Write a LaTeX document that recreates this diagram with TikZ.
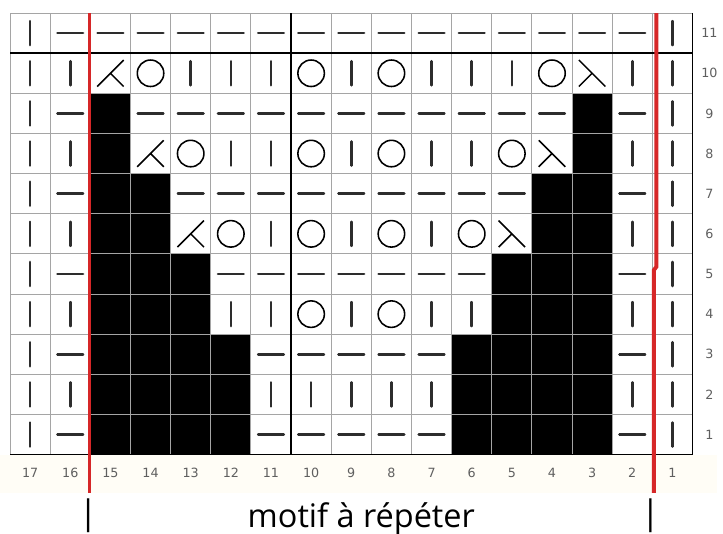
\documentclass[tikz,border=0pt]{standalone}
\usepackage{fontspec}
\setmainfont{Open Sans}
\newfontfamily\numfont{DejaVu Sans}
\usetikzlibrary{positioning}
\definecolor{chartRed}{RGB}{214,39,40}
\definecolor{gridGray}{RGB}{165,165,165}
\definecolor{inkDark}{RGB}{45,45,45}
\definecolor{labelGray}{RGB}{95,95,95}
\definecolor{bandCream}{RGB}{255,253,246}
\tikzset{
  stitch line/.style={line width=1.8pt,draw=inkDark,line cap=round},
  stitch thin/.style={line width=1.1pt,draw=black},
  grid line/.style={draw=gridGray,line width=0.7pt},
  rule line/.style={draw=black,line width=1.1pt},
  repeat line/.style={draw=chartRed,line width=2.8pt},
  number label/.style={font=\numfont\fontsize{9}{11}\selectfont,text=labelGray,inner sep=0pt},
  caption text/.style={font=\fontsize{23}{27}\selectfont,text=black,inner sep=0pt},
  caption bar/.style={font=\fontsize{24}{26}\selectfont,text=black,inner sep=0pt},
  pics/knit/.style={code={\draw[stitch line] (0,-0.3) -- (0,0.3);}},
  pics/purl/.style={code={\draw[stitch line] (-0.32,0) -- (0.32,0);}},
  pics/yarnover/.style={code={\draw[stitch thin] (0,0) circle (0.33);}},
  pics/leftdec/.style={code={\draw[stitch thin] (-0.33,-0.33) -- (0.33,0.33) (0,0) -- (0.33,-0.33);}},
  pics/rightdec/.style={code={\draw[stitch thin] (-0.33,0.33) -- (0.33,-0.33) (0,0) -- (-0.33,-0.33);}},
  pics/nostitch/.style={code={\fill (-0.5,-0.5) rectangle (0.5,0.5);}}
}

\begin{document}
\begin{tikzpicture}
  \useasboundingbox (-0.25,-1.975) rectangle (17.76,11.325);
  \fill[bandCream] (-0.25,-0.95) rectangle (17.6,0);
  \foreach \row/\cells in {
    11/{knit,purl,purl,purl,purl,purl,purl,purl,purl,purl,purl,purl,purl,purl,purl,purl,knit},
    10/{knit,knit,leftdec,yarnover,knit,knit,knit,yarnover,knit,yarnover,knit,knit,knit,yarnover,rightdec,knit,knit},
    9/{knit,purl,nostitch,purl,purl,purl,purl,purl,purl,purl,purl,purl,purl,purl,nostitch,purl,knit},
    8/{knit,knit,nostitch,leftdec,yarnover,knit,knit,yarnover,knit,yarnover,knit,knit,yarnover,rightdec,nostitch,knit,knit},
    7/{knit,purl,nostitch,nostitch,purl,purl,purl,purl,purl,purl,purl,purl,purl,nostitch,nostitch,purl,knit},
    6/{knit,knit,nostitch,nostitch,leftdec,yarnover,knit,yarnover,knit,yarnover,knit,yarnover,rightdec,nostitch,nostitch,knit,knit},
    5/{knit,purl,nostitch,nostitch,nostitch,purl,purl,purl,purl,purl,purl,purl,nostitch,nostitch,nostitch,purl,knit},
    4/{knit,knit,nostitch,nostitch,nostitch,knit,knit,yarnover,knit,yarnover,knit,knit,nostitch,nostitch,nostitch,knit,knit},
    3/{knit,purl,nostitch,nostitch,nostitch,nostitch,purl,purl,purl,purl,purl,nostitch,nostitch,nostitch,nostitch,purl,knit},
    2/{knit,knit,nostitch,nostitch,nostitch,nostitch,knit,knit,knit,knit,knit,nostitch,nostitch,nostitch,nostitch,knit,knit},
    1/{knit,purl,nostitch,nostitch,nostitch,nostitch,purl,purl,purl,purl,purl,nostitch,nostitch,nostitch,nostitch,purl,knit}}
    \foreach \s [count=\i] in \cells
      \pic at (\i-0.5,\row-0.5) {\s};
  \draw[grid line] (0,0) grid (17,11);
  \draw[rule line] (7,0) -- (7,11) (0,10) -- (17,10) (0,0) -- (17,0) -- (17,11);
  \draw[repeat line] (1.98,-0.95) -- (1.98,11);
  \draw[repeat line] (16.04,-0.95) -- (16.04,4.6) -- (16.1,4.68) -- (16.1,11);
  \foreach \c in {1,...,17}
    \node[number label] (col\c) at (17.5-\c,-0.45) {\c};
  \foreach \r in {1,...,11}
    \node[number label] (row\r) at (17.42,\r-0.5) {\r};
  \node[caption text] (motif) at (8.75,-1.6) {motif à répéter};
  \node[caption bar] (barleft) at (1.95,-1.52) {|};
  \node[caption bar] (barright) at (15.95,-1.52) {|};
\end{tikzpicture}
\end{document}
